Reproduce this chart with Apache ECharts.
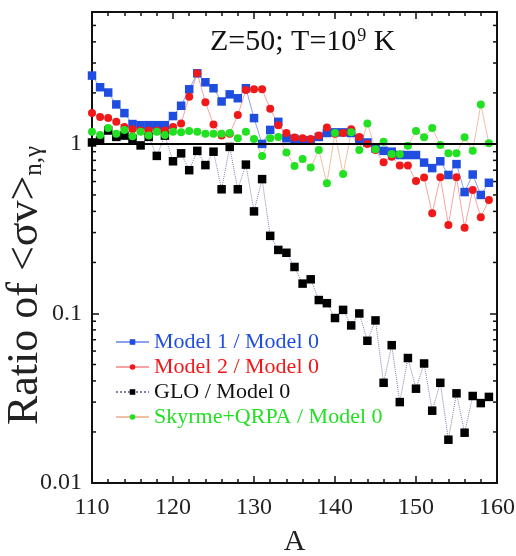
<!DOCTYPE html>
<html>
<head>
<meta charset="utf-8">
<script src="https://cdn.jsdelivr.net/npm/echarts@6/dist/echarts.min.js"></script>
<style>
  html, body { margin: 0; padding: 0; background: #fff; }
  #main { width: 516px; height: 556px; }
</style>
</head>
<body>
<div id="main"></div>
<script>
// mass number A
const massNumbers = [110, 111, 112, 113, 114, 115, 116, 117, 118, 119,
  120, 121, 122, 123, 124, 125, 126, 127, 128, 129,
  130, 131, 132, 133, 134, 135, 136, 137, 138, 139,
  140, 141, 142, 143, 144, 145, 146, 147, 148, 149,
  150, 151, 152, 153, 154, 155, 156, 157, 158, 159]

// ratios
const model1Ratio = [2.53, 2.16, 2.01, 1.71, 1.52, 1.31, 1.29, 1.29, 1.29, 1.29,
  1.46, 1.68, 2.10, 2.61, 2.31, 2.13, 1.78, 1.96, 1.86, 2.13,
  1.42, 1.00, 1.21, 1.35, 1.08, 1.07, 1.05, 1.05, 1.10, 1.16,
  1.17, 1.17, 1.16, 1.07, 1.02, 0.94, 0.91, 0.90, 0.86, 0.86,
  0.86, 0.776, 0.72, 0.79, 0.656, 0.76, 0.52, 0.66, 0.50, 0.59]
const model2Ratio = [1.52, 1.44, 1.42, 1.35, 1.26, 1.22, 1.20, 1.20, 1.20, 1.20,
  1.26, 1.32, 1.90, 2.61, 1.76, 1.30, 1.12, 1.15, 1.48, 2.08,
  2.10, 2.10, 1.61, 1.29, 1.16, 1.09, 1.08, 1.07, 1.12, 1.25,
  1.15, 1.16, 1.22, 1.10, 1.00, 0.92, 0.78, 0.84, 0.745, 0.745,
  0.605, 0.633, 0.39, 0.636, 0.333, 0.636, 0.32, 0.535, 0.37, 0.467]
const gloRatio = [1.02, 1.05, 1.20, 1.10, 1.12, 1.07, 0.98, 1.10, 0.85, 1.12,
  0.79, 0.88, 0.70, 0.91, 0.75, 0.90, 0.54, 0.96, 0.54, 0.755,
  0.40, 0.62, 0.287, 0.237, 0.228, 0.188, 0.150, 0.159, 0.120, 0.115,
  0.094, 0.105, 0.085, 0.100, 0.069, 0.091, 0.039, 0.065, 0.030, 0.0546,
  0.036, 0.0507, 0.0267, 0.039, 0.018, 0.0338, 0.0198, 0.0326, 0.0296, 0.0322]
const skyrmeRatio = [1.18, 1.13, 1.24, 1.15, 1.21, 1.11, 1.18, 1.12, 1.18, 1.13,
  1.18, 1.17, 1.19, 1.18, 1.15, 1.15, 1.15, 1.16, 1.08, 1.18,
  1.07, 0.85, 1.08, 1.10, 0.89, 0.74, 0.815, 0.725, 0.92, 0.586,
  1.16, 0.665, 1.17, 0.92, 1.32, 0.93, 1.03, 0.873, 0.87, 0.977,
  1.19, 1.095, 1.24, 0.986, 0.88, 0.88, 1.095, 0.91, 1.71, 1.01]

// log axis labels and minor ticks
const yTickLabels = [0.01, 0.1, 1]
const minorLogTicks = [0.02, 0.03, 0.04, 0.05, 0.06, 0.07, 0.08, 0.09,
  0.2, 0.3, 0.4, 0.5, 0.6, 0.7, 0.8, 0.9, 2, 3, 4, 5]

const seriesNames = ['Model 1 / Model 0', 'Model 2 / Model 0', 'GLO / Model 0', 'Skyrme+QRPA / Model 0']

function pairs (ys) {
  return massNumbers.map((a, i) => [a, ys[i]])
}

const serif = 'Liberation Serif, Times New Roman, serif'
const frame = { show: true, lineStyle: { color: '#111', width: 2 } }

var myChart = echarts.init(document.getElementById('main'))

var option = {
  animation: false,
  title: {
    text: '{a|Z=50; T=10}{s|9}{a| K}',
    left: 205,
    top: 22,
    textStyle: {
      fontWeight: 'normal',
      rich: {
        a: { fontFamily: serif, fontSize: 30, fontWeight: 'normal', color: '#111' },
        s: { fontFamily: serif, fontSize: 18, fontWeight: 'normal', color: '#111', verticalAlign: 'top', padding: [0, 0, 12, 1] }
      }
    }
  },
  grid: { left: 92, right: 19, top: 12, bottom: 73, outerBoundsMode: 'none' },
  legend: {
    orient: 'vertical',
    left: 110,
    top: 326,
    itemGap: 3,
    itemWidth: 33,
    itemHeight: 7,
    textStyle: { fontFamily: serif, fontSize: 22 },
    data: [
      { name: seriesNames[0], textStyle: { color: '#1f4de0' } },
      { name: seriesNames[1], textStyle: { color: '#f01818' } },
      { name: seriesNames[2], textStyle: { color: '#111' } },
      { name: seriesNames[3], textStyle: { color: '#22e022' } }
    ]
  },
  xAxis: [
    {
      type: 'value',
      min: 110,
      max: 160,
      interval: 10,
      name: 'A',
      nameLocation: 'middle',
      nameGap: 44,
      nameMoveOverlap: false,
      nameTextStyle: { fontFamily: serif, fontSize: 30, color: '#222' },
      axisLine: frame,
      axisTick: { inside: true, length: 7, lineStyle: { color: '#111', width: 1.5 } },
      minorTick: { show: true, splitNumber: 5, length: 4, lineStyle: { color: '#111', width: 1.5 } },
      axisLabel: { fontFamily: serif, fontSize: 24, color: '#222', margin: 13 },
      splitLine: { show: false }
    },
    {
      type: 'value',
      position: 'top',
      min: 110,
      max: 160,
      interval: 10,
      axisLine: frame,
      axisTick: { inside: true, length: 7, lineStyle: { color: '#111', width: 1.5 } },
      minorTick: { show: true, splitNumber: 5, length: 4, lineStyle: { color: '#111', width: 1.5 } },
      axisLabel: { show: false },
      splitLine: { show: false }
    }
  ],
  yAxis: [
    {
      type: 'log',
      logBase: 10,
      min: 0.01,
      max: 6,
      name: '{a|Ratio of <σv>}{s|n,γ}',
      nameLocation: 'middle',
      nameRotate: 90,
      nameGap: 45,
      nameMoveOverlap: false,
      nameTextStyle: {
        // extra right padding pushes the rotated text down the axis
        padding: [0, 76, 0, 0],
        rich: {
          a: { fontFamily: serif, fontSize: 44, color: '#222' },
          s: { fontFamily: serif, fontSize: 25, color: '#222', verticalAlign: 'bottom' }
        }
      },
      axisLine: frame,
      axisTick: { inside: true, length: 7, lineStyle: { color: '#111', width: 1.5 } },
      axisLabel: {
        fontFamily: serif,
        fontSize: 24,
        color: '#222',
        margin: 10,
        formatter: function (v) {
          const hit = yTickLabels.find(t => Math.abs(t - v) / t < 1e-6)
          return hit === undefined ? '' : String(hit)
        }
      },
      splitLine: { show: false }
    },
    {
      type: 'log',
      logBase: 10,
      min: 0.01,
      max: 6,
      position: 'right',
      axisLine: frame,
      axisTick: { inside: true, length: 7, lineStyle: { color: '#111', width: 1.5 } },
      axisLabel: { show: false },
      splitLine: { show: false }
    }
  ],
  series: [
    {
      // minor ticks of the log axes, on both sides of the frame
      type: 'custom',
      silent: true,
      clip: false,
      data: minorLogTicks.map(v => [110, v]),
      renderItem: function (params, api) {
        const y = api.coord([110, api.value(1)])[1]
        const x0 = params.coordSys.x
        const x1 = x0 + params.coordSys.width
        const st = { stroke: '#111', lineWidth: 1.5 }
        return {
          type: 'group',
          children: [
            { type: 'line', shape: { x1: x0, y1: y, x2: x0 + 4, y2: y }, style: st },
            { type: 'line', shape: { x1: x1 - 4, y1: y, x2: x1, y2: y }, style: st }
          ]
        }
      }
    },
    {
      name: seriesNames[2],
      type: 'line',
      symbol: 'rect',
      symbolSize: 8.5,
      itemStyle: { color: '#000' },
      lineStyle: { color: '#7c80ac', width: 1, type: 'dotted' },
      data: pairs(gloRatio),
      markLine: {
        silent: true,
        symbol: 'none',
        label: { show: false },
        lineStyle: { color: '#000', width: 2, type: 'solid' },
        data: [{ yAxis: 1 }]
      }
    },
    {
      name: seriesNames[0],
      type: 'line',
      symbol: 'rect',
      symbolSize: 8.5,
      itemStyle: { color: '#1f4de0' },
      lineStyle: { color: '#8aa2ee', width: 1 },
      data: pairs(model1Ratio)
    },
    {
      name: seriesNames[1],
      type: 'line',
      symbol: 'circle',
      symbolSize: 8,
      itemStyle: { color: '#f01818' },
      lineStyle: { color: '#f5a3a3', width: 1 },
      data: pairs(model2Ratio)
    },
    {
      name: seriesNames[3],
      type: 'line',
      symbol: 'circle',
      symbolSize: 8,
      itemStyle: { color: '#22e022' },
      lineStyle: { color: '#f0bfa5', width: 1 },
      data: pairs(skyrmeRatio)
    }
  ]
}

myChart.setOption(option)
</script>
</body>
</html>
